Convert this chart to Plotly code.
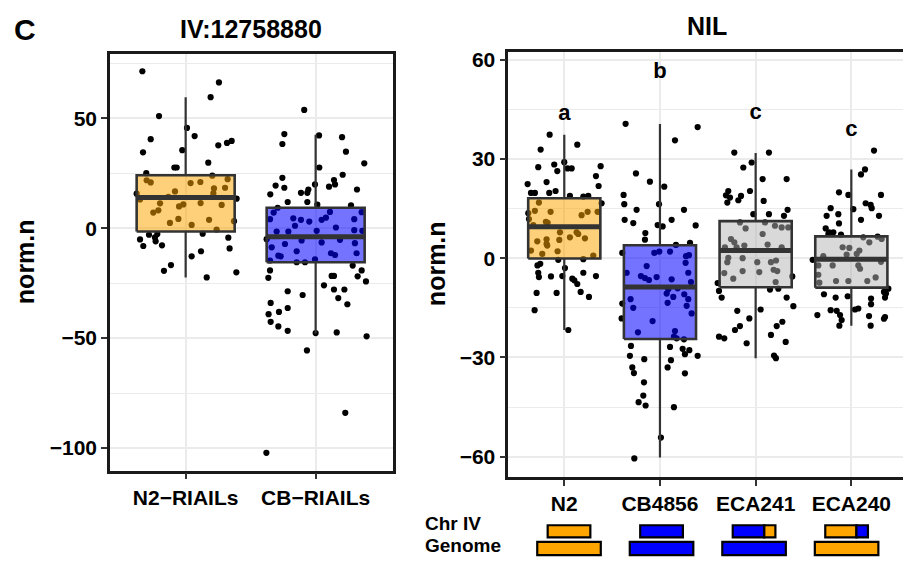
import plotly.graph_objects as go

W, H = 903, 561
FONT = "Liberation Sans, Arial, sans-serif"

# ---------------- data ----------------
left_categories = ["N2\u2212RIAILs", "CB\u2212RIAILs"]
left_fill = ["rgba(255,165,0,0.52)", "rgba(0,0,255,0.55)"]
left_q1 = [-1.5, -15.5]
left_median = [13.9, -3.9]
left_q3 = [24.1, 9.3]
left_lower = [-22.4, -47.9]
left_upper = [59.6, 42.5]

# (jitter offset, value) for each observation
left_n2_points = [
    (-0.333, 71.4), (0.256, 66.3), (0.192, 59.6), (-0.205, 51.0), (0.01, 45.6),
    (0.069, 41.9), (-0.269, 40.5), (0.354, 39.7), (0.318, 38.8), (0.251, 37.7),
    (-0.026, 35.5), (-0.328, 34.5), (0.174, 29.8), (-0.087, 27.6), (-0.069, 27.6),
    (-0.303, 25.0), (0.205, 23.9), (-0.3, 21.8), (-0.269, 20.8), (0.038, 20.5),
    (0.113, 21.0), (0.323, 22.3), (0.218, 18.1), (0.303, 18.4), (-0.082, 16.7),
    (-0.377, 15.7), (0.213, 15.8), (-0.133, 14.2), (0.392, 13.4), (-0.351, 13.1),
    (-0.197, 11.3), (0.115, 11.4), (-0.018, 10.8), (-0.051, 9.9), (0.277, 10.6),
    (-0.21, 8.1), (-0.249, 7.1), (-0.056, 4.2), (0.18, 3.8), (-0.121, 2.4),
    (0.046, 1.5), (0.372, 3.2), (0.238, -0.6), (-0.282, -3.0), (-0.218, -2.7),
    (-0.236, -4.2), (0.131, -2.5), (-0.351, -5.1), (0.328, -4.3), (-0.231, -6.0),
    (-0.326, -8.1), (-0.182, -7.8), (0.338, -9.2), (0.118, -10.5), (0.046, -12.8),
    (-0.113, -16.8), (-0.167, -19.4), (0.162, -22.4), (0.39, -20.1),
]
left_cb_points = [
    (-0.088, 53.8), (-0.241, 42.8), (-0.256, 38.3), (0.026, 42.2), (0.203, 41.4),
    (0.233, 34.8), (0.374, 29.5), (0.028, 27.6), (0.208, 24.3), (-0.256, 22.9),
    (-0.308, 19.4), (-0.241, 18.4), (-0.349, 15.4), (-0.113, 16.1), (-0.056, 17.6),
    (-0.064, 16.1), (-0.005, 19.9), (0.103, 18.9), (0.141, 21.9), (0.149, 19.9),
    (0.318, 17.6), (-0.215, 11.9), (-0.064, 11.9), (0.013, 10.7), (0.272, 10.4),
    (-0.292, 9.3), (-0.323, 7.1), (0.354, 7.3), (0.11, 7.4), (-0.172, 4.5),
    (-0.113, 3.8), (-0.049, 3.0), (0.046, 3.8), (0.079, 4.8), (0.297, 4.1),
    (-0.351, 4.1), (-0.159, 1.1), (0.156, 0.3), (-0.3, -1.5), (-0.21, -1.5),
    (0.008, -1.2), (0.297, -0.9), (0.359, -1.2), (-0.377, -5.0), (-0.236, -7.2),
    (-0.108, -5.6), (0.046, -6.5), (0.187, -5.3), (0.302, -6.8), (-0.338, -8.7),
    (-0.287, -12.5), (-0.146, -10.5), (0.118, -11.4), (0.149, -12.2), (0.315, -11.4),
    (-0.269, -12.8), (-0.351, -14.7), (-0.146, -15.5), (-0.082, -15.5), (-0.005, -14.2),
    (0.285, -17.0), (0.354, -19.2), (-0.351, -19.2), (-0.364, -22.6), (0.123, -21.7),
    (0.141, -21.7), (0.323, -21.9), (0.387, -24.2), (0.064, -26.0), (-0.215, -28.7),
    (0.141, -27.9), (0.221, -27.9), (-0.1, -30.4), (0.174, -31.8), (-0.346, -34.0),
    (0.244, -34.6), (-0.215, -36.3), (-0.282, -38.1), (-0.362, -39.1), (-0.346, -42.6),
    (-0.287, -44.7), (-0.215, -46.7), (0.0, -47.7), (0.162, -47.4), (0.392, -49.2),
    (-0.067, -55.6), (0.228, -84.0), (-0.379, -102.2),
]

right_categories = ["N2", "CB4856", "ECA241", "ECA240"]
right_fill = ["rgba(255,165,0,0.52)", "rgba(0,0,255,0.55)",
              "rgba(180,180,180,0.5)", "rgba(180,180,180,0.5)"]
right_q1 = [-0.1, -24.4, -8.8, -8.9]
right_median = [9.5, -8.7, 2.3, -0.3]
right_q3 = [18.1, 3.9, 11.2, 6.6]
right_lower = [-21.7, -60.2, -30.2, -20.4]
right_upper = [37.3, 40.5, 31.8, 26.8]
right_letters = ["a", "b", "c", "c"]
right_letter_y = [43.5, 56.0, 43.8, 38.7]

right_n2_points = [
    (-0.153, 37.3), (-0.247, 32.8), (0.136, 34.3), (-0.105, 28.3), (0.0, 29.0),
    (0.035, 27.1), (0.077, 27.1), (-0.073, 26.3), (-0.272, 27.5), (0.38, 27.8),
    (0.331, 24.8), (0.359, 21.8), (-0.383, 22.4), (-0.185, 23.0), (-0.348, 19.7),
    (-0.307, 19.7), (-0.157, 19.7), (-0.091, 20.3), (0.059, 18.8), (0.199, 18.6),
    (0.251, 18.8), (0.39, 16.6), (-0.265, 16.8), (-0.143, 14.0), (-0.307, 14.3),
    (-0.376, 13.6), (0.244, 14.0), (0.348, 14.0), (0.181, 13.0), (-0.369, 11.8),
    (-0.324, 10.0), (-0.192, 11.0), (-0.174, 10.7), (-0.045, 7.8), (0.129, 7.8),
    (0.146, 7.3), (0.216, 6.0), (0.059, 6.3), (-0.282, 5.1), (-0.185, 5.7),
    (-0.052, 5.5), (-0.185, 4.3), (-0.178, 3.8), (-0.07, 2.1), (-0.348, 2.3),
    (-0.23, 1.3), (0.303, 0.8), (-0.063, -0.5), (0.199, -0.3), (-0.251, -1.7),
    (-0.28, -2.2), (0.007, -3.0), (-0.272, -4.4), (0.199, -4.4), (-0.265, -5.7),
    (-0.139, -5.5), (-0.021, -5.4), (0.084, -6.2), (0.105, -6.7), (0.331, -5.4),
    (0.136, -7.8), (0.171, -10.2), (-0.289, -10.5), (-0.08, -10.5), (0.258, -11.7),
    (-0.31, -15.7), (0.042, -21.7),
]
right_cb_points = [
    (-0.359, 40.6), (0.394, 39.6), (0.157, 35.6), (-0.251, 25.6), (-0.105, 23.1),
    (0.045, 21.6), (-0.38, 19.1), (-0.373, 16.3), (-0.01, 16.3), (-0.244, 14.6),
    (0.251, 14.6), (-0.369, 11.6), (-0.279, 10.6), (0.122, 11.6), (-0.024, 10.0),
    (0.028, 9.6), (0.373, 9.9), (-0.153, 7.6), (-0.157, 5.6), (0.314, 4.6),
    (0.167, 4.0), (-0.394, 1.6), (-0.059, 1.6), (-0.007, 2.0), (0.105, 2.0),
    (0.272, 0.6), (0.303, 0.9), (0.268, -1.4), (-0.139, -2.4), (-0.348, -4.4),
    (0.296, -4.4), (-0.199, -5.4), (-0.157, -6.0), (-0.115, -6.6), (-0.035, -5.7),
    (0.122, -6.4), (0.324, -7.2), (0.087, -9.4), (0.07, -10.7), (0.139, -11.7),
    (0.185, -9.1), (0.254, -10.9), (-0.394, -13.7), (0.296, -12.4), (-0.307, -12.4),
    (0.279, -14.4), (0.08, -13.5), (-0.279, -15.0), (0.331, -16.7), (-0.401, -18.2),
    (-0.077, -19.0), (0.157, -22.0), (-0.23, -22.4), (0.146, -23.7), (0.174, -24.2),
    (0.251, -24.5), (-0.303, -26.5), (0.105, -26.8), (0.237, -27.4), (0.307, -27.8),
    (0.261, -29.0), (0.394, -29.5), (-0.314, -29.5), (-0.164, -30.5), (0.115, -30.8),
    (-0.289, -33.0), (0.08, -33.0), (-0.272, -34.7), (0.261, -34.8), (-0.167, -37.5),
    (-0.174, -41.5), (-0.223, -43.5), (-0.15, -44.5), (0.146, -45.0), (0.01, -54.2),
    (-0.268, -60.5),
]
right_eca241_points = [
    (-0.223, 31.9), (0.139, 31.9), (-0.042, 28.9), (-0.129, 27.4), (0.073, 23.9),
    (0.324, 23.9), (-0.286, 20.3), (-0.059, 20.3), (-0.31, 19.0), (-0.268, 18.3),
    (-0.153, 18.8), (-0.181, 17.5), (-0.296, 16.8), (0.084, 17.3), (0.334, 14.6),
    (0.139, 13.3), (0.296, 12.8), (-0.024, 13.3), (-0.164, 10.8), (-0.105, 9.0),
    (0.098, 10.8), (0.202, 9.8), (0.272, 9.3), (0.341, 9.3), (0.073, 7.3),
    (-0.258, 5.8), (-0.223, 4.8), (-0.118, 3.8), (0.125, 4.1), (-0.321, 3.3),
    (-0.199, 3.3), (0.272, 3.3), (-0.286, 0.1), (-0.136, 0.0), (0.017, -1.2),
    (0.213, -0.7), (0.16, -1.2), (-0.296, -1.2), (-0.328, -4.5), (-0.136, -3.9),
    (0.038, -4.2), (0.188, -3.5), (0.226, -3.9), (-0.234, -6.2), (0.209, -7.2),
    (-0.397, -7.5), (0.383, -5.5), (-0.383, -9.9), (0.15, -9.5), (0.237, -9.2),
    (-0.355, -11.9), (0.324, -11.9), (0.394, -14.5), (-0.192, -15.9), (0.052, -15.5),
    (-0.066, -18.2), (0.279, -19.2), (-0.164, -20.5), (0.22, -20.5), (-0.216, -21.7),
    (-0.383, -23.7), (-0.328, -24.2), (0.16, -23.2), (-0.094, -25.7), (0.314, -25.3),
    (0.192, -29.4), (0.212, -30.2),
]
right_eca240_points = [
    (0.237, 32.5), (0.143, 26.8), (0.101, 25.3), (-0.129, 19.9), (-0.031, 19.1),
    (0.31, 19.1), (-0.216, 15.1), (0.021, 14.8), (0.15, 16.6), (0.202, 16.1),
    (0.213, 15.1), (-0.258, 12.8), (-0.136, 13.3), (0.101, 11.6), (0.289, 12.8),
    (-0.129, 10.5), (-0.268, 9.0), (-0.233, 7.8), (-0.188, 7.8), (-0.108, 7.1),
    (-0.24, 7.3), (0.275, 6.5), (0.317, 5.8), (0.125, 6.3), (0.188, 4.8),
    (-0.091, 3.3), (-0.021, 3.1), (0.084, 2.3), (0.056, 1.3), (-0.049, 1.1),
    (-0.293, 0.6), (-0.404, -0.5), (-0.195, -2.2), (0.073, -2.2), (0.31, -1.1),
    (-0.345, -2.2), (0.091, -3.2), (-0.345, -5.0), (-0.16, -6.9), (-0.031, -6.9),
    (0.167, -6.9), (0.254, -5.8), (-0.334, -7.4), (0.387, -9.2), (0.341, -10.2),
    (0.362, -10.7), (-0.286, -10.9), (-0.164, -11.9), (-0.038, -11.5), (0.206, -12.2),
    (0.352, -11.9), (0.206, -13.9), (0.038, -15.5), (0.073, -15.2), (-0.216, -15.7),
    (-0.153, -15.9), (-0.118, -17.2), (-0.355, -17.2), (0.185, -17.5), (0.352, -17.8),
    (0.341, -18.3), (-0.101, -18.7), (-0.125, -20.4), (0.202, -20.4),
]

# genotype glyph: whole genome colour and chromosome IV segments (fractions)
genome_colors = ["#FFA500", "#0000FF", "#0000FF", "#FFA500"]
chr_iv_segments = [
    [(0.0, 1.0, "#FFA500")],
    [(0.0, 1.0, "#0000FF")],
    [(0.0, 0.74, "#0000FF"), (0.74, 1.0, "#FFA500")],
    [(0.0, 0.73, "#FFA500"), (0.73, 1.0, "#0000FF")],
]

# ---------------- figure ----------------
BOX_LINE = "#333333"
HALF = 0.377

fig = go.Figure()


def add_panel(xa, ya, groups, q1, med, q3, lo, hi, fills):
    # jittered observations first (they sit beneath the translucent boxes)
    for i, pts in enumerate(groups):
        c = i + 1
        fig.add_trace(go.Scatter(
            x=[c + o for o, v in pts], y=[v for o, v in pts], mode="markers",
            marker=dict(color="black", size=6.2, line=dict(width=0)),
            xaxis=xa, yaxis=ya, hoverinfo="skip", showlegend=False))
    for i in range(len(groups)):
        c = i + 1
        fig.add_trace(go.Scatter(
            x=[c, c, None, c, c], y=[q3[i], hi[i], None, q1[i], lo[i]],
            mode="lines", line=dict(color=BOX_LINE, width=2.2),
            xaxis=xa, yaxis=ya, hoverinfo="skip", showlegend=False))
        fig.add_trace(go.Scatter(
            x=[c - HALF, c + HALF, c + HALF, c - HALF, c - HALF],
            y=[q1[i], q1[i], q3[i], q3[i], q1[i]],
            mode="lines", fill="toself", fillcolor=fills[i],
            line=dict(color=BOX_LINE, width=2.6),
            xaxis=xa, yaxis=ya, hoverinfo="skip", showlegend=False))
        fig.add_trace(go.Scatter(
            x=[c - HALF, c + HALF], y=[med[i], med[i]], mode="lines",
            line=dict(color=BOX_LINE, width=5),
            xaxis=xa, yaxis=ya, hoverinfo="skip", showlegend=False))


add_panel("x", "y", [left_n2_points, left_cb_points],
          left_q1, left_median, left_q3, left_lower, left_upper, left_fill)
add_panel("x2", "y2",
          [right_n2_points, right_cb_points, right_eca241_points, right_eca240_points],
          right_q1, right_median, right_q3, right_lower, right_upper, right_fill)

# significance letters
fig.add_trace(go.Scatter(
    x=list(range(1, len(right_letters) + 1)), y=right_letter_y, mode="text",
    text=right_letters, textposition="middle center",
    textfont=dict(family=FONT, size=22, color="black", weight="bold"),
    xaxis="x2", yaxis="y2", hoverinfo="skip", showlegend=False))

tickfont = dict(family=FONT, size=21, color="black", weight="bold")
axis_common = dict(
    showline=True, linecolor="#1a1a1a", linewidth=2.6,
    ticks="outside", ticklen=6, tickwidth=2, tickcolor="#333333",
    tickfont=tickfont, showgrid=True, gridcolor="#EBEBEB", gridwidth=1.6,
    zeroline=False, fixedrange=True,
)

fig.update_layout(
    width=W, height=H, autosize=False,
    margin=dict(l=0, r=0, t=0, b=0),
    paper_bgcolor="white", plot_bgcolor="white",
    showlegend=False,
    xaxis=dict(domain=[110 / W, 393 / W], range=[0.418, 2.595], anchor="y",
               tickmode="array", tickvals=[1, 2], ticktext=left_categories,
               mirror=True, **axis_common),
    yaxis=dict(domain=[1 - 470 / H, 1 - 50 / H], range=[-110.3, 79.4], anchor="x",
               tickmode="array", tickvals=[-100, -50, 0, 50],
               minor=dict(tickmode="array", tickvals=[-75, -25, 25, 75],
                          showgrid=True, gridcolor="#EBEBEB", gridwidth=1.1, ticks=""),
               mirror=True, **axis_common),
    xaxis2=dict(domain=[508.3 / W, 1.0], range=[0.415, 4.54], anchor="y2",
                tickmode="array", tickvals=[1, 2, 3, 4], ticktext=right_categories,
                mirror=True, **axis_common),
    yaxis2=dict(domain=[1 - 476.7 / H, 1 - 48.3 / H], range=[-66.2, 62.3], anchor="x2",
                tickmode="array", tickvals=[-60, -30, 0, 30, 60],
                minor=dict(tickmode="array", tickvals=[-45, -15, 15, 45],
                           showgrid=True, gridcolor="#EBEBEB", gridwidth=1.1, ticks=""),
                mirror=False, **axis_common),
)


def ann(text, x, y, size, angle=0, xanchor="center"):
    fig.add_annotation(text=f"<b>{text}</b>", x=x / W, y=1 - y / H,
                       xref="paper", yref="paper", showarrow=False,
                       xanchor=xanchor, yanchor="middle", textangle=angle,
                       font=dict(family=FONT, size=size, color="black"))


ann("C", 25, 26, 30)
ann("IV:12758880", 251, 25, 25)
ann("NIL", 707, 22, 25)
ann("norm.n", 25, 260, 25, angle=-90)
ann("norm.n", 436, 262, 25, angle=-90)
ann("Chr IV", 423, 523, 19, xanchor="left")
ann("Genome", 423, 545, 19, xanchor="left")

# genotype glyphs under the NIL axis
TOP_HALF, BOT_HALF = 0.223, 0.332
for i, col in enumerate(genome_colors):
    c = 2.5 + (i + 1 - 2.5) * 0.967
    fig.add_shape(type="rect", xref="x2", yref="paper",
                  x0=c - BOT_HALF, x1=c + BOT_HALF,
                  y0=1 - 555 / H, y1=1 - 541.7 / H,
                  fillcolor=col, line=dict(color="black", width=2.2), layer="above")
    for s0, s1, scol in chr_iv_segments[i]:
        fig.add_shape(type="rect", xref="x2", yref="paper",
                      x0=c - TOP_HALF + 2 * TOP_HALF * s0,
                      x1=c - TOP_HALF + 2 * TOP_HALF * s1,
                      y0=1 - 537.3 / H, y1=1 - 525 / H,
                      fillcolor=scol, line=dict(color="black", width=2.2), layer="above")

fig.write_html("out.html",
               config={"displayModeBar": False},
               post_script="document.body.style.margin='0px';"
                           "document.body.style.overflow='hidden';")
